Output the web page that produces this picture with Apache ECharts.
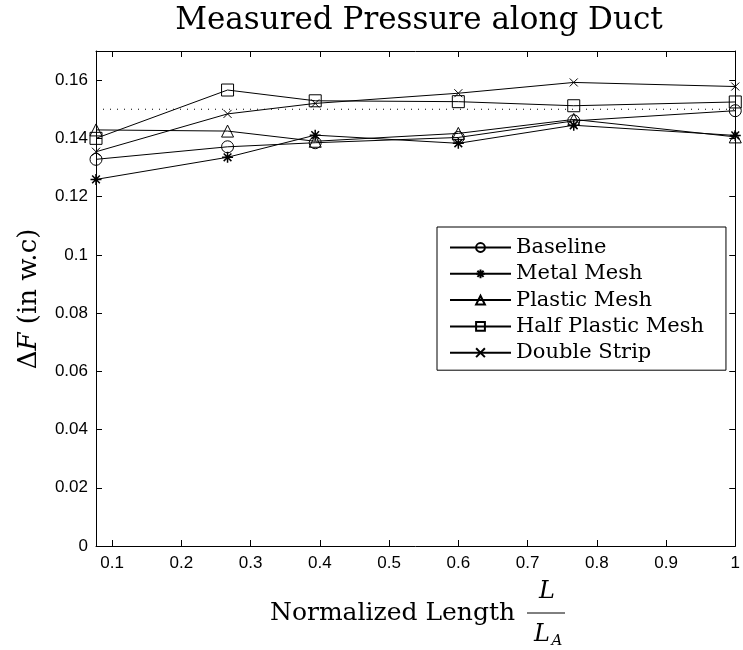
<!DOCTYPE html>
<html>
<head>
<meta charset="utf-8">
<script src="https://cdn.jsdelivr.net/npm/echarts@6/dist/echarts.min.js"></script>
<style>html,body{margin:0;padding:0;background:#fff}#c{width:743px;height:650px}</style>
</head>
<body>
<div id="c"></div>
<script>
// ---- data ----
const xPositions = [0.0767, 0.2667, 0.3933, 0.6, 0.7667, 1.0];
const baseline = [0.1328, 0.1371, 0.1385, 0.1403, 0.1460, 0.1495];
const metalMesh = [0.1259, 0.1335, 0.1411, 0.1383, 0.1445, 0.1410];
const plasticMesh = [0.1429, 0.1425, 0.1390, 0.1417, 0.1465, 0.1405];
const halfPlasticMesh = [0.1400, 0.1566, 0.1529, 0.1526, 0.1512, 0.1525];
const doubleStrip = [0.1354, 0.1484, 0.1520, 0.1555, 0.1592, 0.1578];
const referenceLevel = 0.15;
const seriesNames = ['Baseline', 'Metal Mesh', 'Plastic Mesh', 'Half Plastic Mesh', 'Double Strip'];
const xTickValues = [0.1, 0.2, 0.3, 0.4, 0.5, 0.6, 0.7, 0.8, 0.9, 1];
const yTickValues = [0, 0.02, 0.04, 0.06, 0.08, 0.1, 0.12, 0.14, 0.16];
const xMin = 0.0767, xMax = 1, yMin = 0, yMax = 0.17;

const pair = arr => xPositions.map((x, i) => [x, arr[i]]);
const STAR = 'path://M5 0L5 10M0 5L10 5M1.5 1.5L8.5 8.5M8.5 1.5L1.5 8.5';
const CROSS = 'path://M0 0L10 10M10 0L0 10';

const serif = 'DejaVu Serif';
const sans = 'Liberation Sans';

function mkSeries(name, data, symbol, size, bw) {
  return {
    name, type: 'line', data: pair(data), symbol, symbolSize: size,
    lineStyle: { color: '#000', width: 1 },
    itemStyle: { color: 'rgba(0,0,0,0)', borderColor: '#000', borderWidth: bw || 1 },
    emphasis: { disabled: true }, animation: false, z: 3
  };
}

const tickCommon = (vals) => ({ show: true, inside: true, length: 6, customValues: vals, lineStyle: { color: '#000' } });
const axisLine = { show: true, onZero: false, lineStyle: { color: '#000', width: 1 } };

const chart = echarts.init(document.getElementById('c'), null, { renderer: 'canvas' });
chart.setOption({
  animation: false,
  backgroundColor: '#fff',
  grid: { left: 96, right: 1, top: 51, bottom: 104, containLabel: false },
  xAxis: [
    { type: 'value', min: xMin, max: xMax, position: 'bottom', axisLine, splitLine: { show: false },
      axisTick: tickCommon(xTickValues),
      axisLabel: { customValues: xTickValues, color: '#000', fontFamily: sans, fontSize: 17, margin: 9,
        formatter: v => String(+v.toFixed(2)) } },
    { type: 'value', min: xMin, max: xMax, position: 'top', axisLine, splitLine: { show: false },
      axisTick: tickCommon(xTickValues), axisLabel: { show: false } }
  ],
  yAxis: [
    { type: 'value', min: yMin, max: yMax, position: 'left', axisLine, splitLine: { show: false },
      axisTick: tickCommon(yTickValues),
      axisLabel: { customValues: yTickValues, color: '#000', fontFamily: sans, fontSize: 17, margin: 8,
        formatter: v => String(+v.toFixed(2)) } },
    { type: 'value', min: yMin, max: yMax, position: 'right', axisLine, splitLine: { show: false },
      axisTick: tickCommon(yTickValues), axisLabel: { show: false } }
  ],
  legend: {
    data: seriesNames, orient: 'vertical', left: 437, top: 227,
    padding: [10, 22, 7, 12], itemWidth: 61, itemHeight: 11, itemGap: 5.3,
    borderColor: '#000', borderWidth: 1, backgroundColor: '#fff',
    textStyle: { fontFamily: serif, fontSize: 21, color: '#000', lineHeight: 20 },
    selectedMode: false
  },
  series: [
    { name: 'ref', type: 'line', data: [[xMin, referenceLevel], [xMax, referenceLevel]], symbol: 'none',
      lineStyle: { color: '#000', width: 1, type: [1, 6] }, silent: true, z: 2 },
    mkSeries('Baseline', baseline, 'circle', 12),
    mkSeries('Metal Mesh', metalMesh, STAR, 11, 1.5),
    mkSeries('Plastic Mesh', plasticMesh, 'triangle', 12),
    mkSeries('Half Plastic Mesh', halfPlasticMesh, 'rect', 12),
    mkSeries('Double Strip', doubleStrip, CROSS, 8)
  ],
  graphic: [
    { type: 'text', x: 419, y: 21, style: { text: 'Measured Pressure along Duct', font: '31px "DejaVu Serif"', fill: '#000', align: 'center', verticalAlign: 'middle' } },
    { type: 'text', x: 270, y: 613, style: { text: 'Normalized Length', font: '25px "DejaVu Serif"', fill: '#000', align: 'left', verticalAlign: 'middle' } },
    { type: 'text', x: 547, y: 592, style: { text: 'L', font: 'italic 24px "DejaVu Serif"', fill: '#000', align: 'center', verticalAlign: 'middle' } },
    { type: 'line', shape: { x1: 527, y1: 613, x2: 565, y2: 613 }, style: { stroke: '#000', lineWidth: 1 } },
    { type: 'text', x: 542, y: 635, style: { text: 'L', font: 'italic 24px "DejaVu Serif"', fill: '#000', align: 'center', verticalAlign: 'middle' } },
    { type: 'text', x: 557, y: 641, style: { text: 'A', font: 'italic 15px "DejaVu Serif"', fill: '#000', align: 'center', verticalAlign: 'middle' } },
    { type: 'text', x: 29, y: 299, rotation: Math.PI / 2,
      style: { text: '{n|Δ}{i|F}{n| (in w.c)}', align: 'center', verticalAlign: 'middle', fill: '#000',
        rich: { n: { fontFamily: serif, fontSize: 26, fill: '#000' }, i: { fontFamily: serif, fontStyle: 'italic', fontSize: 26, fill: '#000' } } } }
  ]
});
</script>
</body>
</html>
